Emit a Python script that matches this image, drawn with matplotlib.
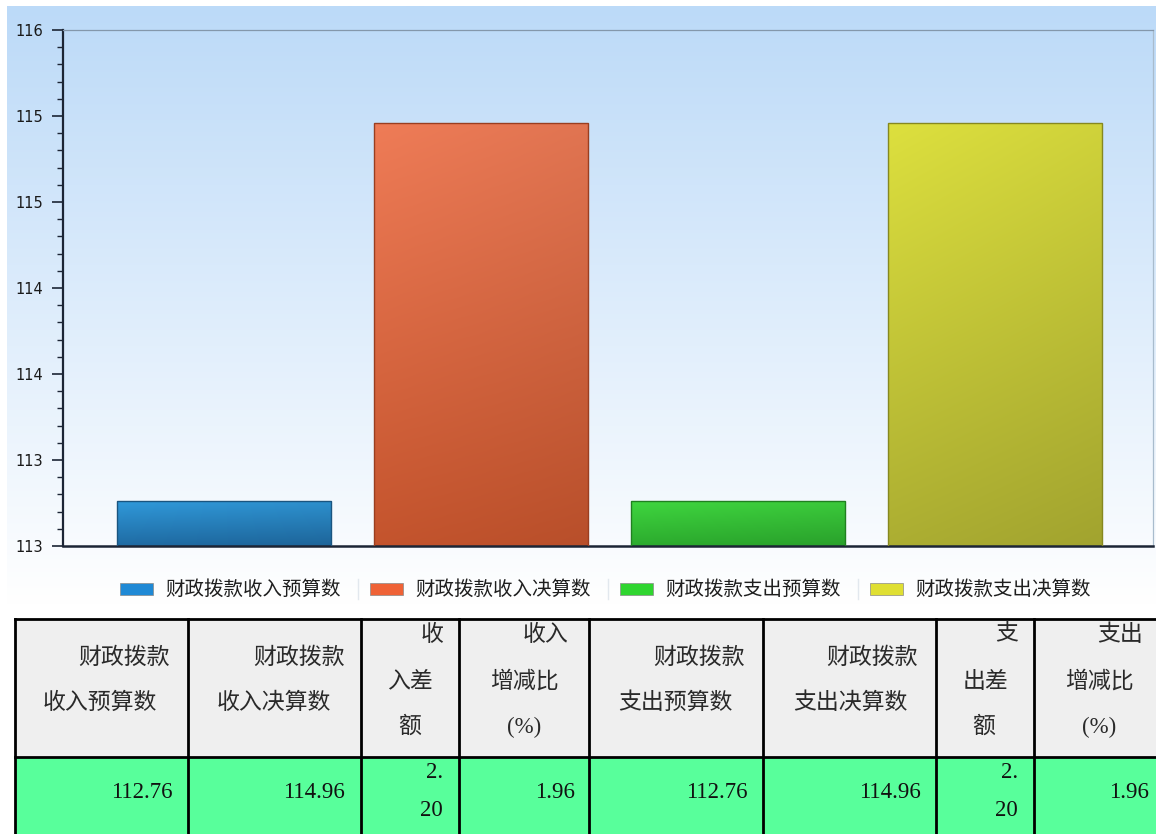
import numpy as np
import matplotlib
matplotlib.use('Agg')
import matplotlib.pyplot as plt
from matplotlib.patches import Rectangle
from matplotlib.lines import Line2D
from matplotlib.colors import to_rgb

# ---------------- data ----------------
series = ['财政拨款收入预算数', '财政拨款收入决算数', '财政拨款支出预算数', '财政拨款支出决算数']
values = [112.76, 114.96, 112.76, 114.96]
ytick_values = [112.5, 113.0, 113.5, 114.0, 114.5, 115.0, 115.5]
ytick_labels = ['113', '113', '114', '114', '115', '115', '116']

header_lines = [
    ['财政拨款', '收入预算数'],
    ['财政拨款', '收入决算数'],
    ['收', '入差', '额'],
    ['收入', '增减比', '(%)'],
    ['财政拨款', '支出预算数'],
    ['财政拨款', '支出决算数'],
    ['支', '出差', '额'],
    ['支出', '增减比', '(%)'],
]
row_values = [['112.76'], ['114.96'], ['2.', '20'], ['1.96'],
              ['112.76'], ['114.96'], ['2.', '20'], ['1.96']]

# ---------------- styles / layout ----------------
W, H = 1156, 834
bar_top_colors = ['#3099da', '#ef7c57', '#3fd63f', '#dde03e']
bar_bot_colors = ['#1f6ba3', '#c4542d', '#2cab2e', '#acae32']
bar_edge_colors = ['#1a5580', '#9a3e20', '#208020', '#86881f']
legend_colors = ['#1f89d5', '#ef6236', '#2fd52f', '#dfdf32']

CJK = ['Noto Sans CJK SC', 'DejaVu Sans']
SERIF = ['Liberation Serif', 'Noto Sans CJK SC']

fig = plt.figure(figsize=(W / 100, H / 100), dpi=100)
fig.patch.set_facecolor('white')

# full-figure pixel axes for background, legend and table
tax = fig.add_axes([0, 0, 1, 1])
tax.set_xlim(0, W)
tax.set_ylim(H, 0)
tax.axis('off')

# chart background gradient
top_c = np.array(to_rgb('#bcdaf8'))
bot_c = np.array(to_rgb('#ffffff'))
t = np.linspace(0, 1, 256)[:, None, None]
grad = top_c * (1 - t) + bot_c * t
tax.imshow(grad, extent=[7, W, 605, 6], aspect='auto', zorder=0, interpolation='bilinear')
tax.set_xlim(0, W)
tax.set_ylim(H, 0)

# ---------------- main chart ----------------
left, right, top, bottom = 63, 1153, 30, 546
ax = fig.add_axes([left / W, (H - bottom) / H, (right - left) / W, (bottom - top) / H])
ax.set_facecolor('none')

x = np.arange(len(values))
ylo, yhi = ytick_values[0], ytick_values[-1]
bars = ax.bar(x, values, width=0.833, facecolor='none',
              edgecolor=bar_edge_colors, linewidth=1.0, zorder=3)
for b, c0, c1 in zip(bars, bar_top_colors, bar_bot_colors):
    bx0 = b.get_x()
    bx1 = bx0 + b.get_width()
    btop = b.get_y() + b.get_height()
    tt = np.linspace(0, 1, 128)[:, None, None]
    g = np.array(to_rgb(c0)) * (1 - tt) + np.array(to_rgb(c1)) * tt
    hs = np.linspace(1.0, 0.94, 64)[None, :, None]
    g = np.clip(g * hs, 0, 1)
    im = ax.imshow(g, extent=[bx0, bx1, ylo, btop], aspect='auto', zorder=2,
                   interpolation='bilinear')
    im.set_clip_path(b)

ax.set_xlim(-0.6265, 3.615)
ax.set_ylim(ylo, yhi)
ax.set_xticks([])
ax.set_yticks(ytick_values)
ax.set_yticklabels(ytick_labels)
ax.yaxis.set_minor_locator(matplotlib.ticker.MultipleLocator(0.1))
ax.tick_params(axis='y', which='major', length=8, width=1.2, color='#1c2535',
               pad=6, labelsize=10.5, labelcolor='#1a1a1a')
ax.tick_params(axis='y', which='minor', length=4, width=1.0, color='#1c2535')
for lab in ax.get_yticklabels():
    lab.set_family('DejaVu Sans')

ax.spines['left'].set_color('#1c2535')
ax.spines['left'].set_linewidth(1.6)
ax.spines['bottom'].set_color('#1c2535')
ax.spines['bottom'].set_linewidth(1.8)
ax.spines['top'].set_color('#8497ab')
ax.spines['top'].set_linewidth(0.9)
ax.spines['right'].set_color('#a9bccd')
ax.spines['right'].set_linewidth(0.9)

# ---------------- legend (manual) ----------------
leg_x0, leg_step, leg_y = 120, 250, 589
for i, (name, col) in enumerate(zip(series, legend_colors)):
    bx = leg_x0 + leg_step * i
    tax.add_patch(Rectangle((bx, leg_y - 6), 33, 12, facecolor=col,
                            edgecolor='#8a8a8a', linewidth=0.5, zorder=3))
    tax.text(bx + 45, leg_y, name, fontsize=14, family=CJK, color='#1e1e1e',
             va='center', ha='left', zorder=3)
    if i > 0:
        sx = bx - 12
        tax.add_line(Line2D([sx, sx], [leg_y - 10, leg_y + 10], color='#e2e8ee',
                            linewidth=1.0, zorder=3))

# ---------------- table ----------------
col_edges = [15, 188, 361, 459, 589, 763, 936, 1034, 1170]
row_edges = [619, 757, 850]
tax.add_patch(Rectangle((col_edges[0], row_edges[0]), col_edges[-1] - col_edges[0],
                        row_edges[1] - row_edges[0], facecolor='#efefef',
                        edgecolor='none', zorder=1))
tax.add_patch(Rectangle((col_edges[0], row_edges[1]), col_edges[-1] - col_edges[0],
                        row_edges[2] - row_edges[1], facecolor='#58ff9b',
                        edgecolor='none', zorder=1))
for xe in col_edges:
    tax.add_line(Line2D([xe, xe], [row_edges[0], row_edges[-1]], color='black',
                        linewidth=2.0, zorder=4))
for ye in row_edges:
    tax.add_line(Line2D([col_edges[0], col_edges[-1]], [ye, ye], color='black',
                        linewidth=2.0, zorder=4))

# header line placement (x, ha, y) per column
two_y = [658, 703]
three_y = [635, 682, 727]
header_pos = [
    [(170, 'right'), (43, 'left')],
    [(345, 'right'), (217, 'left')],
    [(444, 'right'), (387, 'left'), (410, 'center')],
    [(568, 'right'), (524, 'center'), (524, 'center')],
    [(745, 'right'), (618, 'left')],
    [(918, 'right'), (793, 'left')],
    [(1018, 'right'), (963, 'left'), (984, 'center')],
    [(1143, 'right'), (1099, 'center'), (1099, 'center')],
]
for lines, pos in zip(header_lines, header_pos):
    ys = two_y if len(lines) == 2 else three_y
    for s, (xp, ha), yp in zip(lines, pos, ys):
        tax.text(xp, yp, s, fontsize=16.5, family=SERIF, color='#2a2a2a',
                 ha=ha, va='center', zorder=5)

data_right = [173, 345, 443, 575, 748, 921, 1018, 1149]
for vals, xr in zip(row_values, data_right):
    ys = [792] if len(vals) == 1 else [772, 810]
    for s, yp in zip(vals, ys):
        tax.text(xr, yp, s, fontsize=16.5, family=SERIF, color='#111111',
                 ha='right', va='center', zorder=5)

fig.savefig('out.png', dpi=100)
